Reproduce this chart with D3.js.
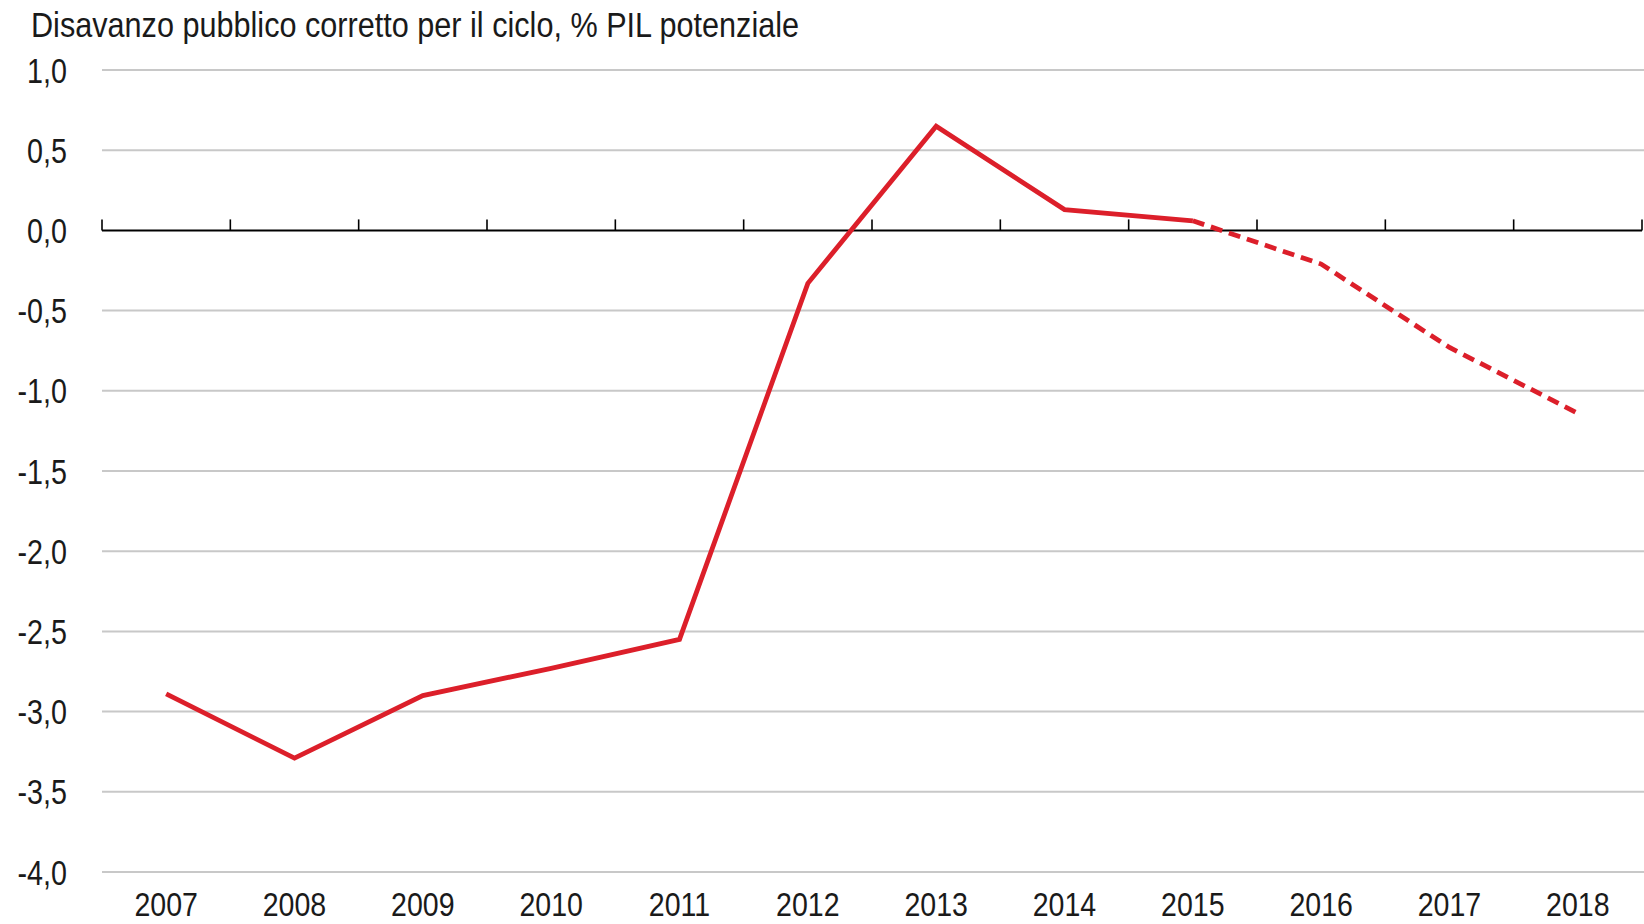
<!DOCTYPE html>
<html>
<head>
<meta charset="utf-8">
<script src="https://cdn.jsdelivr.net/npm/d3@7"></script>
<style>
  html, body { margin: 0; padding: 0; background: #fff; }
  svg { display: block; }
  text { font-family: "Liberation Sans", Arial, sans-serif; fill: #1a1a1a; }
</style>
</head>
<body>
<svg id="chart" width="1644" height="924"></svg>
<script>
const years = ['2007', '2008', '2009', '2010', '2011', '2012', '2013', '2014', '2015', '2016', '2017', '2018'];
const deficit = [-2.89, -3.29, -2.9, -2.73, -2.55, -0.33, 0.65, 0.13, 0.06, -0.21, -0.73, -1.14];
const lastActual = '2015';
const yTicks = [1, 0.5, 0, -0.5, -1, -1.5, -2, -2.5, -3, -3.5, -4];
const title = 'Disavanzo pubblico corretto per il ciclo, % PIL potenziale';

const W = 1644, H = 924;
const margin = { top: 70, right: 2, bottom: 52, left: 102 };
// no narrow font installed, so squeeze a regular one
const NARROW = 0.82;

const svg = d3.select('#chart');

const x = d3.scaleBand()
  .domain(years)
  .range([margin.left, W - margin.right])
  .padding(0);

const y = d3.scaleLinear()
  .domain([-4, 1])
  .range([H - margin.bottom, margin.top]);

const fmt = (v) => d3.format('.1f')(v).replace('.', ',').replace('\u2212', '-');

// gridlines
svg.append('g')
  .selectAll('line')
  .data(yTicks.filter((d) => d !== 0))
  .join('line')
  .attr('x1', margin.left)
  .attr('x2', W)
  .attr('y1', (d) => y(d))
  .attr('y2', (d) => y(d))
  .attr('stroke', '#c8c8c8')
  .attr('stroke-width', 2);

// y labels
svg.append('g')
  .selectAll('text')
  .data(yTicks)
  .join('text')
  .attr('transform', (d) => `translate(67,${y(d)}) scale(${NARROW},1)`)
  .attr('dy', '0.36em')
  .attr('text-anchor', 'end')
  .attr('font-size', 35)
  .text(fmt);

// zero axis with ticks at band edges
const zero = y(0);
const edges = years.map((d) => x(d)).concat([x(years[years.length - 1]) + x.bandwidth()]);
svg.append('line')
  .attr('x1', margin.left)
  .attr('x2', edges[edges.length - 1])
  .attr('y1', zero)
  .attr('y2', zero)
  .attr('stroke', '#000')
  .attr('stroke-width', 2);
svg.append('g')
  .selectAll('line')
  .data(edges)
  .join('line')
  .attr('x1', (d) => d)
  .attr('x2', (d) => d)
  .attr('y1', zero)
  .attr('y2', zero - 11)
  .attr('stroke', '#000')
  .attr('stroke-width', 1.6);

// x labels
svg.append('g')
  .selectAll('text')
  .data(years)
  .join('text')
  .attr('transform', (d) => `translate(${x(d) + x.bandwidth() / 2},916) scale(${NARROW + 0.02},1)`)
  .attr('text-anchor', 'middle')
  .attr('font-size', 34)
  .text((d) => d);

// series
const pts = years.map((yr, i) => ({ yr, v: deficit[i] }));
const cut = years.indexOf(lastActual);
const line = d3.line()
  .x((d) => x(d.yr) + x.bandwidth() / 2)
  .y((d) => y(d.v));

svg.append('path')
  .datum(pts.slice(0, cut + 1))
  .attr('d', line)
  .attr('fill', 'none')
  .attr('stroke', '#dc1f2a')
  .attr('stroke-width', 4.8)
  .attr('stroke-linejoin', 'miter');

svg.append('path')
  .datum(pts.slice(cut))
  .attr('d', line)
  .attr('fill', 'none')
  .attr('stroke', '#dc1f2a')
  .attr('stroke-width', 4.8)
  .attr('stroke-dasharray', '12 7');

// title
svg.append('text')
  .attr('transform', 'translate(31,37) scale(0.875,1)')
  .attr('font-size', 35)
  .text(title);
</script>
</body>
</html>
